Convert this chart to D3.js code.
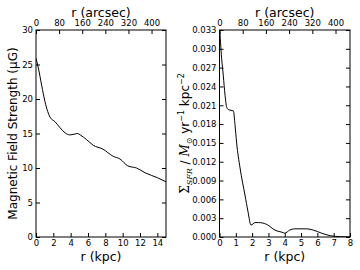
<!DOCTYPE html>
<html>
<head>
<meta charset="utf-8">
<script src="https://cdn.jsdelivr.net/npm/d3@7"></script>
<style>
  body { margin: 0; background: #fff; }
  text { font-family: "DejaVu Sans", sans-serif; }
</style>
</head>
<body>
<svg id="chart" width="360" height="270"></svg>
<script>
// magnetic field profile, r in kpc vs B in microGauss
var fieldR = [0, 0.27, 0.65, 1.04, 1.35, 1.6, 2.2, 2.8, 3.35, 3.9, 4.4, 4.8, 5.1, 5.85, 6.6, 7.7, 8.9, 9.7, 10.6, 11.6, 12.6, 14.0, 15.0];
var fieldB = [25.9, 24.5, 22.0, 19.6, 18.2, 17.4, 16.7, 15.8, 15.1, 14.8, 14.9, 15.0, 14.8, 14.1, 13.3, 12.75, 11.7, 11.3, 10.3, 10.0, 9.3, 8.6, 8.0];

// star formation rate surface density
var sfrR = [0, 0.13, 0.23, 0.34, 0.44, 0.55, 0.85, 0.95, 1.05, 1.26, 1.56, 1.75, 1.93, 2.18, 2.4, 2.9, 3.4, 3.9, 4.0, 4.3, 4.6, 5.35, 5.75, 6.27, 6.8, 7.4, 8.0];
var sfrS = [0.0338, 0.0285, 0.0258, 0.0226, 0.0207, 0.0203, 0.0201, 0.0179, 0.0150, 0.0110, 0.0067, 0.0040, 0.0019, 0.0023, 0.0023, 0.0020, 0.0011, 0.0007, 0.0006, 0.0011, 0.0013, 0.0013, 0.0011, 0.0006, 0.0002, 0.00005, 0.0];

var arcsecTicks = [0, 80, 160, 240, 320, 400];
var fieldXTicks = [0, 2, 4, 6, 8, 10, 12, 14];
var fieldYTicks = [0, 5, 10, 15, 20, 25, 30];
var sfrXTicks = [0, 1, 2, 3, 4, 5, 6, 7, 8];
var sfrYTicks = [0, 0.003, 0.006, 0.009, 0.012, 0.015, 0.018, 0.021, 0.024, 0.027, 0.030, 0.033];

var svg = d3.select("#chart");
var top0 = 30, bottom0 = 237;

function panel(opts) {
  var g = svg.append("g");
  var x = d3.scaleLinear().domain(opts.xDomain).range([opts.left, opts.right]);
  var y = d3.scaleLinear().domain(opts.yDomain).range([bottom0, top0]);
  var xTop = d3.scaleLinear().domain([0, 450]).range([opts.left, opts.right]);

  var clipId = "clip" + opts.id;
  svg.append("clipPath").attr("id", clipId)
    .append("rect")
    .attr("x", opts.left).attr("y", top0)
    .attr("width", opts.right - opts.left).attr("height", bottom0 - top0);

  var pts = opts.xs.map(function (d, i) { return [d, opts.ys[i]]; });
  var line = d3.line()
    .x(function (d) { return x(d[0]); })
    .y(function (d) { return y(d[1]); })
    .curve(d3.curveMonotoneX);

  g.append("path")
    .attr("d", line(pts))
    .attr("clip-path", "url(#" + clipId + ")")
    .attr("fill", "none")
    .attr("stroke", "#000")
    .attr("stroke-width", 1);

  // axes: ticks pointing inside, labels outside
  function styleAxis(sel) {
    sel.select(".domain").remove();
    sel.selectAll(".tick line").attr("stroke", "#000");
    sel.selectAll(".tick text").style("font-family", "DejaVu Sans").style("font-size", "8.5px").attr("fill", "#000");
  }

  g.append("g").attr("transform", "translate(0," + bottom0 + ")")
    .call(d3.axisBottom(x).tickValues(opts.xTicks).tickSize(-4).tickPadding(2.5).tickFormat(d3.format("d")))
    .call(styleAxis);
  g.append("g").attr("transform", "translate(0," + top0 + ")")
    .call(d3.axisTop(xTop).tickValues(arcsecTicks).tickSize(-4).tickPadding(4).tickFormat(d3.format("d")))
    .call(styleAxis);
  g.append("g").attr("transform", "translate(" + opts.left + ",0)")
    .call(d3.axisLeft(y).tickValues(opts.yTicks).tickSize(-4).tickPadding(3).tickFormat(opts.yFormat))
    .call(styleAxis);
  g.append("g").attr("transform", "translate(" + opts.right + ",0)")
    .call(d3.axisRight(y).tickValues(opts.yTicks).tickSize(-4).tickFormat(""))
    .call(styleAxis);

  g.append("rect")
    .attr("x", opts.left).attr("y", top0)
    .attr("width", opts.right - opts.left).attr("height", bottom0 - top0)
    .attr("fill", "none").attr("stroke", "#000").attr("stroke-width", 1);

  var mid = (opts.left + opts.right) / 2;
  g.append("text").attr("x", mid).attr("y", 261)
    .attr("text-anchor", "middle").style("font-size", "12.5px").text("r (kpc)");
  g.append("text").attr("x", mid).attr("y", 16.5)
    .attr("text-anchor", "middle").style("font-size", "12.5px").text("r (arcsec)");
  return g;
}

panel({
  id: 1, left: 36, right: 166,
  xDomain: [0, 15], yDomain: [0, 30],
  xs: fieldR, ys: fieldB,
  xTicks: fieldXTicks, yTicks: fieldYTicks,
  yFormat: d3.format("d")
});

panel({
  id: 2, left: 219.5, right: 350,
  xDomain: [0, 8], yDomain: [0, 0.033],
  xs: sfrR, ys: sfrS,
  xTicks: sfrXTicks, yTicks: sfrYTicks,
  yFormat: d3.format(".3f")
});

svg.append("text")
  .attr("transform", "translate(17," + (top0 + bottom0) / 2 + ") rotate(-90)")
  .attr("text-anchor", "middle")
  .style("font-size", "12px")
  .text("Magnetic Field Strength (\u03bcG)");

var sl = svg.append("text")
  .attr("transform", "translate(189," + (top0 + bottom0) / 2 + ") rotate(-90)")
  .attr("text-anchor", "middle")
  .style("font-size", "12px");
sl.append("tspan").style("font-family", "DejaVu Serif").text("\u03a3");
sl.append("tspan").style("font-family", "DejaVu Serif").style("font-style", "italic").style("font-size", "8px").attr("dy", 3).text("SFR");
sl.append("tspan").attr("dy", -3).text(" / ");
sl.append("tspan").style("font-family", "DejaVu Serif").style("font-style", "italic").text("M");
sl.append("tspan").style("font-size", "8px").attr("dy", 3).text("\u2299");
sl.append("tspan").attr("dy", -3).text(" yr");
sl.append("tspan").style("font-size", "8px").attr("dy", -5).text("\u22121");
sl.append("tspan").attr("dy", 5).text(" kpc");
sl.append("tspan").style("font-size", "8px").attr("dy", -5).text("\u22122");
</script>
</body>
</html>
